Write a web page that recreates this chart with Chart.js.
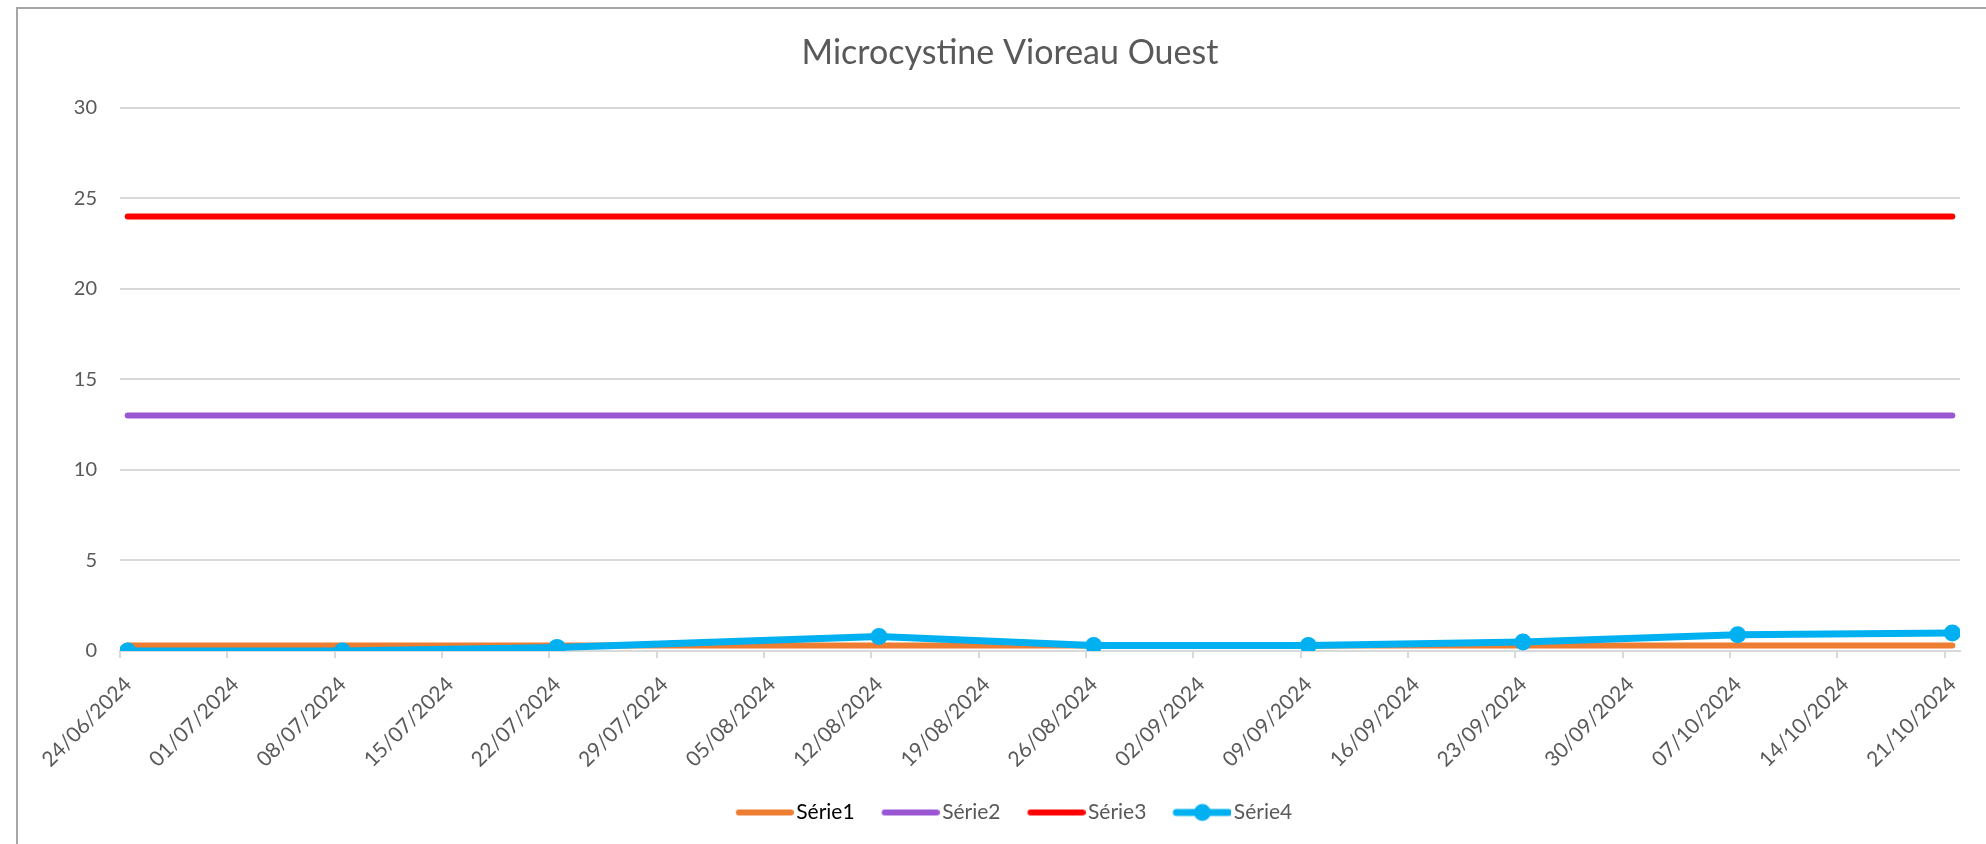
<!DOCTYPE html>
<html lang="fr">
<head>
<meta charset="utf-8">
<title>Microcystine Vioreau Ouest</title>
<script src="https://cdn.jsdelivr.net/npm/chart.js@4.4.1/dist/chart.umd.min.js"></script>
<style>
    html, body { margin: 0; padding: 0; background: #fff; overflow: hidden; }
    body { width: 1986px; height: 844px; position: relative; }
    #frame {
        position: absolute; left: 16px; top: 7px;
        width: 1988px; height: 840px;
        border: 2px solid #a6a6a6; box-sizing: border-box;
    }
    #box { position: relative; width: 1984px; height: 836px; }
</style>
</head>
<body>
<div id="frame"><div id="box"><canvas id="chart"></canvas></div></div>
<script>
// Sample dates and values
const sampleDates = ['24/06/2024', '08/07/2024', '22/07/2024', '12/08/2024', '26/08/2024',
    '09/09/2024', '23/09/2024', '07/10/2024', '21/10/2024'];
const serie1 = [0.3, 0.3, 0.3, 0.3, 0.3, 0.3, 0.3, 0.3, 0.3];
const serie2 = [13, 13, 13, 13, 13, 13, 13, 13, 13];
const serie3 = [24, 24, 24, 24, 24, 24, 24, 24, 24];
const serie4 = [0, 0, 0.2, 0.8, 0.3, 0.3, 0.5, 0.9, 1.0];

// Axis labels
const tickLabels = ['24/06/2024', '01/07/2024', '08/07/2024', '15/07/2024', '22/07/2024',
    '29/07/2024', '05/08/2024', '12/08/2024', '19/08/2024', '26/08/2024', '02/09/2024',
    '09/09/2024', '16/09/2024', '23/09/2024', '30/09/2024', '07/10/2024', '14/10/2024',
    '21/10/2024'];
const yTicks = [0, 5, 10, 15, 20, 25, 30];

const FONT = 'Lato, "Open Sans", sans-serif';
const GREY = '#595959';

// days since the first tick label
function toDay(str) {
    const [d, m, y] = str.split('/').map(Number);
    return Date.UTC(y, m - 1, d) / 86400000;
}
const origin = toDay(tickLabels[0]);
const dayOf = s => toDay(s) - origin;
const tickDays = tickLabels.map(dayOf);
const lastDay = tickDays[tickDays.length - 1];

function points(values) {
    return sampleDates.map((d, i) => ({ x: dayOf(d), y: values[i] }));
}

// small picture used as legend key
function legendIcon(color, width, dot) {
    const c = document.createElement('canvas');
    c.width = 74;
    c.height = 20;
    const ctx = c.getContext('2d');
    ctx.strokeStyle = color;
    ctx.lineWidth = width;
    ctx.lineCap = 'round';
    ctx.beginPath();
    ctx.moveTo(19, 10);
    ctx.lineTo(71, 10);
    ctx.stroke();
    if (dot) {
        ctx.fillStyle = color;
        ctx.beginPath();
        ctx.arc(45, 10, dot, 0, Math.PI * 2);
        ctx.fill();
    }
    return c;
}

function lineSet(label, values, color, order, width, dot) {
    return {
        label: label,
        data: points(values),
        borderColor: color,
        backgroundColor: color,
        borderWidth: width,
        borderCapStyle: 'round',
        borderJoinStyle: 'round',
        pointRadius: dot,
        pointBorderWidth: 0,
        pointBackgroundColor: color,
        tension: 0,
        order: order
    };
}

const datasets = [
    lineSet('Série1', serie1, '#ED7D31', 3, 6, 0),
    lineSet('Série2', serie2, '#9B57D3', 2, 6, 0),
    lineSet('Série3', serie3, '#FF0000', 1, 6, 0),
    lineSet('Série4', serie4, '#00B0F0', 0, 7, 8.5)
];

new Chart(document.getElementById('chart'), {
    type: 'line',
    data: { datasets: datasets },
    options: {
        responsive: true,
        maintainAspectRatio: false,
        animation: false,
        layout: { padding: { left: 0, right: 0, top: 0, bottom: 12 } },
        plugins: {
            tooltip: { enabled: false },
            title: {
                display: true,
                text: 'Microcystine Vioreau Ouest',
                color: GREY,
                font: { family: FONT, size: 34, weight: 'normal' },
                padding: { top: 24, bottom: 34 }
            },
            legend: {
                position: 'bottom',
                labels: {
                    usePointStyle: true,
                    pointStyleWidth: 58,
                    padding: 19,
                    font: { family: FONT, size: 21 },
                    generateLabels: chart => chart.data.datasets.map((ds, i) => ({
                        text: ds.label,
                        fontColor: i === 0 ? '#000000' : GREY,
                        pointStyle: legendIcon(ds.borderColor, ds.borderWidth, ds.pointRadius),
                        fillStyle: 'transparent',
                        strokeStyle: 'transparent',
                        lineWidth: 0,
                        hidden: false,
                        datasetIndex: i
                    }))
                }
            }
        },
        scales: {
            x: {
                type: 'linear',
                min: -0.5,
                max: lastDay + 0.5,
                afterBuildTicks: scale => {
                    scale.ticks = tickDays.map(d => ({ value: d - 0.5 }));
                },
                afterFit: scale => { scale.height = 132; },
                ticks: {
                    autoSkip: false,
                    minRotation: 45,
                    maxRotation: 45,
                    labelOffset: 8,
                    padding: 14,
                    color: GREY,
                    font: { family: FONT, size: 21 },
                    callback: (value, index) => tickLabels[index]
                },
                grid: {
                    drawOnChartArea: false,
                    tickLength: 7,
                    color: '#d9d9d9',
                    lineWidth: 2
                },
                border: { color: '#d9d9d9', width: 2 }
            },
            y: {
                min: yTicks[0],
                max: yTicks[yTicks.length - 1],
                afterBuildTicks: scale => {
                    scale.ticks = yTicks.map(v => ({ value: v }));
                },
                afterFit: scale => { scale.width = 102; },
                ticks: {
                    padding: 23,
                    color: GREY,
                    font: { family: FONT, size: 20 }
                },
                grid: {
                    drawTicks: false,
                    color: '#d9d9d9',
                    lineWidth: 2
                },
                border: { display: false }
            },
            // empty strip on the right of the plot
            right: {
                position: 'right',
                display: true,
                afterFit: scale => { scale.width = 42; },
                ticks: { display: false },
                grid: { display: false },
                border: { display: false }
            }
        }
    }
});
</script>
</body>
</html>
